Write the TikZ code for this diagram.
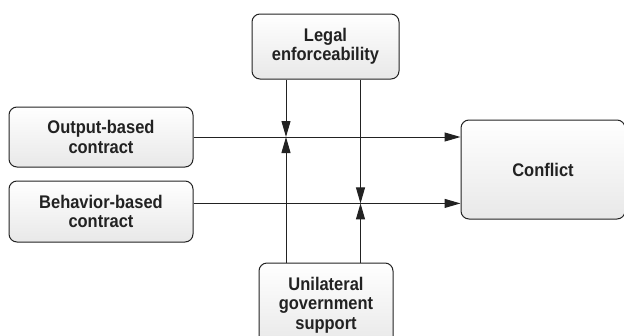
\documentclass[tikz,border=0pt]{standalone}
\usepackage{fontspec}
\setmainfont[FakeStretch=0.9]{Liberation Sans}
\usepackage{xcolor}
\usetikzlibrary{arrows.meta}
\definecolor{edge}{RGB}{34,34,34}
\definecolor{boxbot}{RGB}{232,232,232}

\begin{document}
\begin{tikzpicture}[x=1pt,y=-1pt]
\tikzstyle{every node}=[font=\bfseries\fontsize{18.3}{19.5}\selectfont, text=edge]
\tikzstyle{box}=[draw=edge, line width=1pt, rounded corners=8pt, top color=white, bottom color=boxbot, inner sep=0pt, align=center]
\tikzstyle{link}=[draw=edge, line width=1pt, -{Triangle[length=16pt,width=9pt]}]
\useasboundingbox (0,0) rectangle (624,335);
    \node[box, minimum width=147pt, minimum height=65pt] (legal) at (325.5,46.5) {Legal\\enforceability};
    \node[box, minimum width=184pt, minimum height=60pt] (output) at (101,137) {Output-based\\contract};
    \node[box, minimum width=184pt, minimum height=61pt] (behav) at (101,211.5) {Behavior-based\\contract};
    \node[box, minimum width=164pt, minimum height=99pt] (conflict) at (543,169.5) {Conflict};
    \node[box, minimum width=134pt, minimum height=84pt] (unilat) at (326,305) {Unilateral\\government\\support};

    \draw[link] (output.east) -- (output.east -| conflict.west);
    \draw[link] (behav.5) -- (behav.5 -| conflict.west);

    \draw[link] ([xshift=-39.5pt]legal.south) -- ([xshift=-39.5pt]legal.south |- output.east);
    \draw[link] ([xshift=-40pt]unilat.north) -- ([xshift=-40pt]unilat.north |- output.east);
    \draw[link] ([xshift=35pt]legal.south) -- ([xshift=35pt]legal.south |- behav.5);
    \draw[link] ([xshift=34.5pt]unilat.north) -- ([xshift=34.5pt]unilat.north |- behav.5);
\end{tikzpicture}
\end{document}
